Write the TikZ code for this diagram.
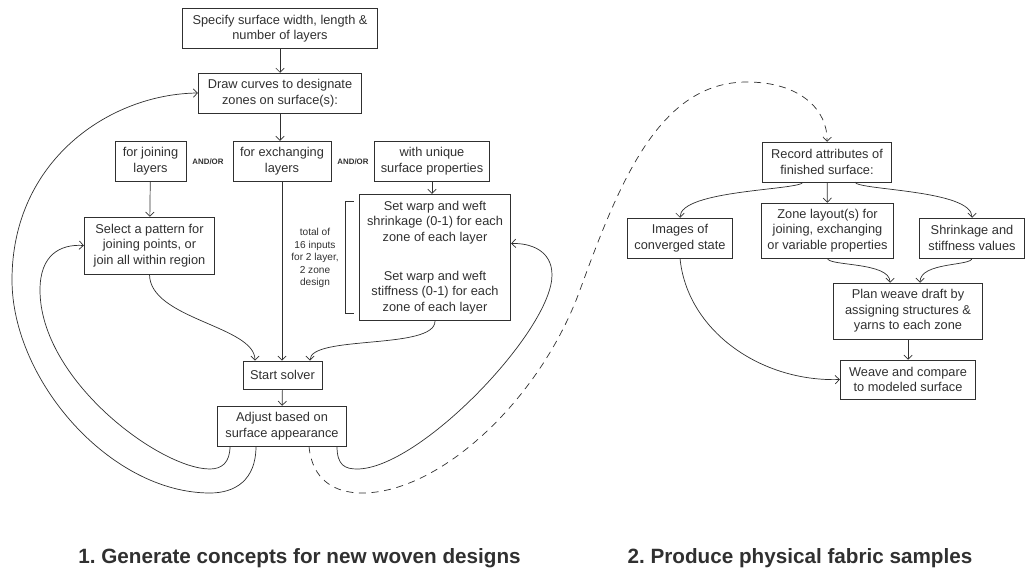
\documentclass[tikz,border=0pt]{standalone}
\usepackage{fontspec}
\setmainfont{Liberation Sans}
\usetikzlibrary{arrows.meta,calc}
\definecolor{ink}{HTML}{303030}
\frenchspacing
\begin{document}
\begin{tikzpicture}[x=0.025cm,y=-0.025cm,color=ink,line width=0.5pt,
    box/.style={draw, align=center, inner sep=1pt,
        font=\fontsize{9.1}{11}\selectfont},
    link/.style={-{Straight Barb[length=3pt,width=6pt]}},
    loopback/.style={link},
    handover/.style={link, dash pattern=on 5pt off 4pt},
    andor/.style={font=\fontsize{5.6}{6.5}\selectfont\bfseries},
    tally/.style={align=center, inner sep=0pt, font=\fontsize{7.2}{8.9}\selectfont},
    heading/.style={font=\fontsize{14.7}{17}\selectfont\bfseries}]

\useasboundingbox (0,0) rectangle (1026,573);

% 1. concepts
\node[box, minimum width=138.9pt, minimum height=28.3pt] (spec) at (280,28.5) {Specify surface width, length \&\\number of layers};
\node[box, minimum width=116.2pt, minimum height=28.3pt] (zones) at (280,93) {Draw curves to designate\\zones on surface(s):};
\node[box, minimum width=50.3pt, minimum height=28.3pt] (join) at (150.5,161) {for joining\\layers};
\node[box, minimum width=69.5pt, minimum height=28.3pt] (exch) at (282,161) {for exchanging\\layers};
\node[box, minimum width=82.2pt, minimum height=28.3pt] (uniq) at (432,161) {with unique\\surface properties};
\node[andor] (or1) at (208,162) {AND/OR};
\node[andor] (or2) at (353,162) {AND/OR};
\node[box, minimum width=92.8pt, minimum height=40.4pt] (pattern) at (149.5,245.5) {Select a pattern for\\joining points, or\\join all within region};
\node[box, minimum width=107.7pt, minimum height=90pt] (warp) at (435,257.5) {Set warp and weft\\shrinkage (0-1) for each\\zone of each layer\\[17pt]Set warp and weft\\stiffness (0-1) for each\\zone of each layer};
\node[tally] (inputs) at (315,258) {total of\\16 inputs\\for 2 layer,\\2 zone\\design};
\node[box, minimum width=56pt, minimum height=19.8pt] (solver) at (282.5,375) {Start solver};
\node[box, minimum width=92.1pt, minimum height=28.3pt] (adjust) at (282,426) {Adjust based on\\surface appearance};

\draw ($(warp.north west)+(-5,7)$) -- ++(-9,0) -- ++(0,112) -- ++(9,0);

\draw[link] (spec) -- (zones);
\draw[link] (zones.south) -- (exch.north -| zones.south);
\draw[link] (join) -- (pattern);
\draw[link] (uniq) -- (warp.north -| uniq.south);
\draw[link] (exch.south) -- (exch.south |- solver.north);
\draw[link] (pattern.south) .. controls +(0,45) and +(0,-35) .. ($(solver.north)+(-27.5,0)$);
\draw[link] (warp.south) .. controls +(0,29) and +(0,-26) .. ($(solver.north)+(27.5,0)$);
\draw[link] (solver) -- (adjust);

\draw[loopback] ($(adjust.south)+(-52,0)$) .. controls +(0,16) and (222,469) .. (210,469)
    .. controls (160,469) and (40,380) .. (40,290)
    .. controls (40,255) and (60,244) .. (pattern.west);
\draw[loopback] ($(adjust.south)+(-26,0)$) .. controls +(0,34) and (235,493) .. (210,493)
    .. controls (110,493) and (12,380) .. (12,280)
    .. controls (12,160) and (110,94) .. (zones.west);
\draw[loopback] ($(adjust.south)+(55,0)$) .. controls +(0,19) and (345,469) .. (357,469)
    .. controls (420,469) and (552,330) .. (552,275)
    .. controls (552,250) and (530,243) .. ($(warp.east)+(0,-14)$);

% 2. samples
\node[box, minimum width=92.1pt, minimum height=28.3pt] (record) at (827,162) {Record attributes of\\finished surface:};
\node[box, minimum width=75.1pt, minimum height=28.3pt] (images) at (680,238) {Images of\\converged state};
\node[box, minimum width=94.3pt, minimum height=39pt] (layout) at (827.5,230.5) {Zone layout(s) for\\joining, exchanging\\or variable properties};
\node[box, minimum width=75.1pt, minimum height=28.3pt] (values) at (972,238) {Shrinkage and\\stiffness values};
\node[box, minimum width=106.3pt, minimum height=39.7pt] (draft) at (908,311) {Plan weave draft by\\assigning structures \&\\yarns to each zone};
\node[box, minimum width=96.4pt, minimum height=27.6pt] (weave) at (908,379.5) {Weave and compare\\to modeled surface};

\draw[handover] ($(adjust.south)+(27,0)$) .. controls +(3,34) and (335,493) .. (362,493)
    .. controls (440,493) and (540,400) .. (580,290)
    .. controls (620,180) and (660,82) .. (747,82)
    .. controls (800,82) and (828,110) .. (record.north);

\draw[link] ($(record.south)+(-24,0)$) .. controls +(-3,8) and +(0,-28) .. (images.north);
\draw[link] (record) -- (layout);
\draw[link] ($(record.south)+(28,0)$) .. controls +(3,8) and +(0,-28) .. (values.north);
\draw[link] (layout.south) .. controls +(0,8) and +(0,-21) .. ($(draft.north)+(-18,0)$);
\draw[link] (values.south) .. controls +(0,8) and +(0,-21) .. ($(draft.north)+(12,0)$);
\draw[link] (draft) -- (weave);
\draw[link] (images.south) .. controls +(7,72) and (760,382) .. (weave.west);

\node[heading] (title1) at (299.5,558) {1. Generate concepts for new woven designs};
\node[heading] (title2) at (800,558) {2. Produce physical fabric samples};
\end{tikzpicture}
\end{document}
